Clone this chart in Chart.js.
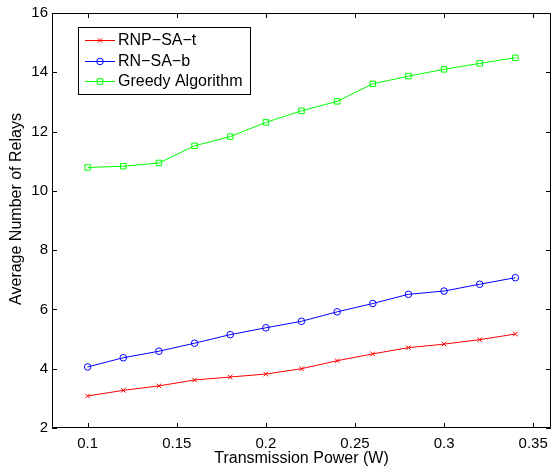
<!DOCTYPE html>
<html>
<head>
<meta charset="utf-8">
<script src="https://cdn.jsdelivr.net/npm/chart.js@4.4.1/dist/chart.umd.min.js"></script>
<style>
html,body{margin:0;padding:0;background:#fff;}
#wrap{width:556px;height:472px;position:relative;}
</style>
</head>
<body>
<div id="wrap"><canvas id="c" width="556" height="472"></canvas></div>
<script>
const xValues = [0.1, 0.12, 0.14, 0.16, 0.18, 0.2, 0.22, 0.24, 0.26, 0.28, 0.3, 0.32, 0.34];
const rnpSAt = [3.08, 3.27, 3.42, 3.62, 3.72, 3.82, 4.00, 4.27, 4.50, 4.71, 4.83, 4.98, 5.17];
const rnSAb = [4.06, 4.37, 4.59, 4.86, 5.15, 5.38, 5.60, 5.92, 6.20, 6.51, 6.62, 6.85, 7.07];
const greedy = [10.79, 10.83, 10.94, 11.52, 11.83, 12.31, 12.70, 13.02, 13.61, 13.87, 14.10, 14.30, 14.49];
const xTicks = [0.1, 0.15, 0.2, 0.25, 0.3, 0.35];
const xTickLabels = ['0.1', '0.15', '0.2', '0.25', '0.3', '0.35'];
const yTicks = [2, 4, 6, 8, 10, 12, 14, 16];
const seriesNames = ['RNP\u2212SA\u2212t', 'RN\u2212SA\u2212b', 'Greedy Algorithm'];
const yTitle = 'Average Number of Relays';
const xTitle = 'Transmission Power (W)';

const FONT = '"Liberation Sans", Arial, Helvetica, sans-serif';

function pts(ys){ return xValues.map((x,i)=>({x:x, y:ys[i]})); }

const framePlugin = {
  id: 'frame',
  afterDraw(chart){
    const ctx = chart.ctx;
    const a = chart.chartArea;
    const xs = chart.scales.x, ys = chart.scales.y;
    ctx.save();
    ctx.strokeStyle = '#000';
    ctx.lineWidth = 1;
    ctx.beginPath();
    ctx.rect(Math.round(a.left)+0.5, Math.round(a.top)+0.5, Math.round(a.right-a.left)-1, Math.round(a.bottom-a.top)-1);
    ctx.stroke();
    const tl = 5;
    ctx.beginPath();
    xTicks.forEach(v=>{
      const px = Math.round(xs.getPixelForValue(v))+0.5;
      ctx.moveTo(px, a.bottom); ctx.lineTo(px, a.bottom-tl);
      ctx.moveTo(px, a.top); ctx.lineTo(px, a.top+tl);
    });
    yTicks.forEach(v=>{
      const py = Math.round(ys.getPixelForValue(v))+0.5;
      ctx.moveTo(a.left, py); ctx.lineTo(a.left+tl, py);
      ctx.moveTo(a.right, py); ctx.lineTo(a.right-tl, py);
    });
    ctx.stroke();

    // y axis title
    ctx.save();
    ctx.translate(17, 209);
    ctx.rotate(-Math.PI/2);
    ctx.font = '16px ' + FONT;
    ctx.fillStyle = '#000';
    ctx.textAlign = 'center';
    ctx.textBaseline = 'middle';
    ctx.fillText(yTitle, 0, 0);
    ctx.restore();

    // legend
    const bx = 78.5, by = 27.5, bw = 172, bh = 67;
    ctx.fillStyle = '#fff';
    ctx.fillRect(bx, by, bw, bh);
    ctx.strokeStyle = '#000';
    ctx.strokeRect(bx, by, bw, bh);
    const rowsY = [40, 61, 81];
    ctx.font = '16px ' + FONT;
    ctx.textBaseline = 'middle';
    ctx.textAlign = 'left';
    chart.data.datasets.forEach((ds,i)=>{
      const y = rowsY[i] + 0.5;
      ctx.strokeStyle = ds.borderColor;
      ctx.lineWidth = 1;
      ctx.beginPath(); ctx.moveTo(85, y); ctx.lineTo(115, y); ctx.stroke();
      ctx.save();
      ctx.strokeStyle = ds.borderColor; ctx.fillStyle = 'rgba(0,0,0,0)';
      ctx.lineWidth = 1;
      Chart.helpers.drawPoint(ctx, {pointStyle: ds.pointStyle, radius: ds.pointRadius, rotation: 0, borderWidth: 1}, 100, y);
      ctx.restore();
      ctx.fillStyle = '#000';
      ctx.fillText(ds.label, 118, rowsY[i]+1);
    });
    ctx.restore();
  }
};

new Chart(document.getElementById('c'), {
  type: 'line',
  data: {
    datasets: [
      {label: seriesNames[0], data: pts(rnpSAt), borderColor: '#ff0000', backgroundColor: 'rgba(0,0,0,0)', pointStyle: 'crossRot', pointRadius: 3.2, pointBorderColor: '#ff0000', borderWidth: 1, pointBorderWidth: 1},
      {label: seriesNames[1], data: pts(rnSAb), borderColor: '#0000ff', backgroundColor: 'rgba(0,0,0,0)', pointStyle: 'circle', pointRadius: 3.3, pointBorderColor: '#0000ff', borderWidth: 1, pointBorderWidth: 1},
      {label: seriesNames[2], data: pts(greedy), borderColor: '#00ff00', backgroundColor: 'rgba(0,0,0,0)', pointStyle: 'rect', pointRadius: 3.9, pointBorderColor: '#00ff00', borderWidth: 1, pointBorderWidth: 1}
    ]
  },
  options: {
    responsive: false,
    animation: false,
    events: [],
    layout: {padding: {left: 0, top: 10, right: 0, bottom: 0}},
    plugins: {legend: {display: false}, tooltip: {enabled: false}},
    scales: {
      x: {
        type: 'linear', min: 0.08, max: 0.36,
        afterBuildTicks: s => { s.ticks = xTicks.map(v=>({value: v})); },
        afterFit: s => { s.height = 44; },
        grid: {display: false, drawTicks: false},
        border: {display: false},
        ticks: {color: '#000', font: {size: 15, family: FONT}, padding: 7, maxRotation: 0, autoSkip: false,
          callback: (v) => { const i = xTicks.findIndex(t=>Math.abs(t-v)<1e-9); return i>=0 ? xTickLabels[i] : ''; }},
        title: {display: true, text: xTitle, color: '#000', font: {size: 16, family: FONT}, padding: {top: 0, bottom: 4}}
      },
      y: {
        type: 'linear', min: 2, max: 16,
        afterBuildTicks: s => { s.ticks = yTicks.map(v=>({value: v})); },
        afterFit: s => { s.width = 52; },
        grid: {display: false, drawTicks: false},
        border: {display: false},
        ticks: {color: '#000', font: {size: 15, family: FONT}, padding: 4, callback: v => String(v)},
        title: {display: false}
      }
    }
  },
  plugins: [framePlugin]
});
</script>
</body>
</html>
